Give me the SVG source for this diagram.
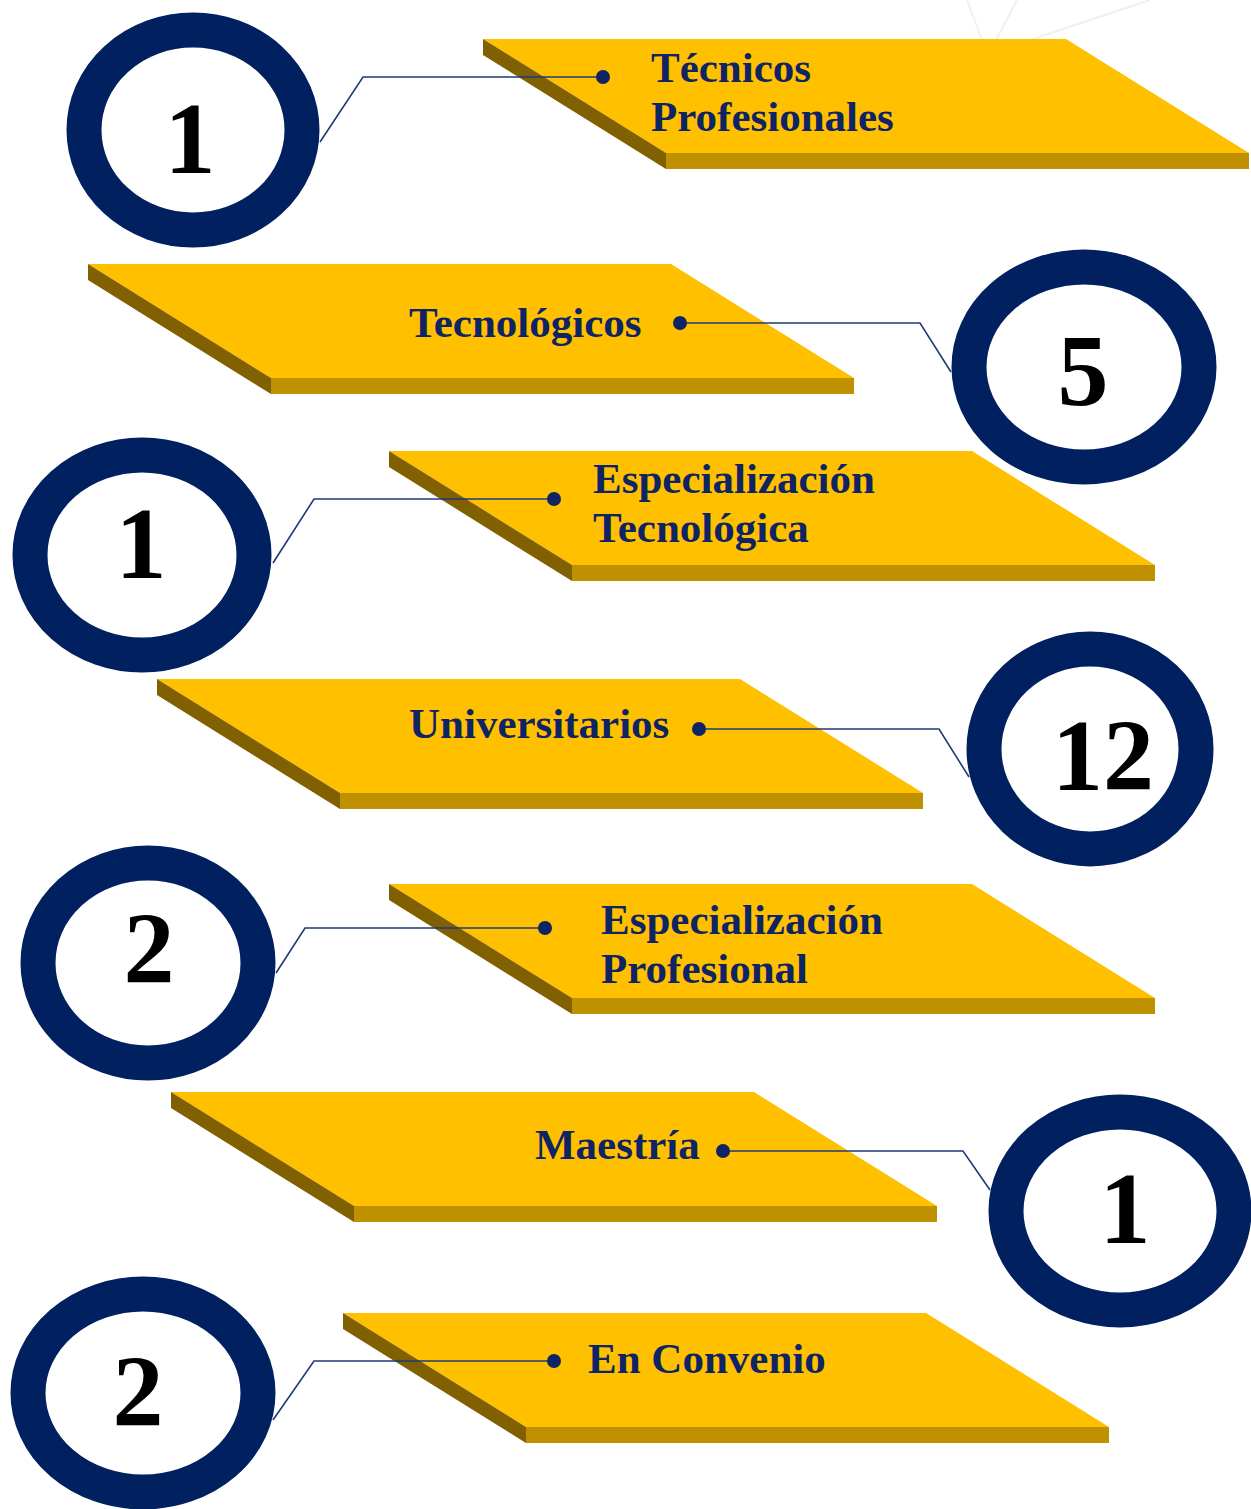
<svg xmlns="http://www.w3.org/2000/svg" width="1251" height="1509" viewBox="0 0 1251 1509">
<style>
.top{fill:#FFC000}
.side{fill:#806000}
.bot{fill:#BF9000}
.ring{fill:#FFFFFF;stroke:#002060;stroke-width:35}
.num{font-family:"Liberation Serif","Times New Roman",serif;font-weight:bold;font-size:102px;fill:#000000;text-anchor:middle}
.lbl{font-family:"Liberation Serif","Times New Roman",serif;font-weight:bold;font-size:43px;fill:#0F2463}
.conn{fill:none;stroke:#1F3A7A;stroke-width:1.6}
.dot{fill:#0F2463}
.deco{fill:none;stroke:#EEF0F3;stroke-width:2}
</style>
<defs>
<g id="slab">
<polygon class="top" points="0,0 583,0 766,114 183,114"/>
<polygon class="side" points="0,0 183,114 183,130 0,16"/>
<polygon class="bot" points="183,114 766,114 766,130 183,130"/>
</g>
</defs>
<rect width="1251" height="1509" fill="#FFFFFF"/>
<g id="decoration">
<line class="deco" x1="967" y1="0" x2="982" y2="40"/>
<line class="deco" x1="1017" y1="0" x2="996" y2="40"/>
<line class="deco" x1="1150" y1="0" x2="1030" y2="40"/>
</g>
<g id="node-tecnicos">
<use href="#slab" x="483" y="39"/>
<text class="lbl" x="651" y="82">Técnicos</text>
<text class="lbl" x="651" y="131">Profesionales</text>
</g>
<g id="node-tecnologicos">
<use href="#slab" x="88" y="264"/>
<text class="lbl" x="409" y="337">Tecnológicos</text>
</g>
<g id="node-esp-tecnologica">
<use href="#slab" x="389" y="451"/>
<text class="lbl" x="593" y="493">Especialización</text>
<text class="lbl" x="593" y="542">Tecnológica</text>
</g>
<g id="node-universitarios">
<use href="#slab" x="157" y="679"/>
<text class="lbl" x="409" y="738">Universitarios</text>
</g>
<g id="node-esp-profesional">
<use href="#slab" x="389" y="884"/>
<text class="lbl" x="601" y="934">Especialización</text>
<text class="lbl" x="601" y="983">Profesional</text>
</g>
<g id="node-maestria">
<use href="#slab" x="171" y="1092"/>
<text class="lbl" x="535" y="1159">Maestría</text>
</g>
<g id="node-convenio">
<use href="#slab" x="343" y="1313"/>
<text class="lbl" x="588" y="1373">En Convenio</text>
</g>
<g id="connectors">
<polyline class="conn" points="320,142 363,77 603,77"/>
<circle class="dot" cx="603" cy="77" r="7"/>
<polyline class="conn" points="680,323 920,323 951,372"/>
<circle class="dot" cx="680" cy="323" r="7"/>
<polyline class="conn" points="273,563 314,499 554,499"/>
<circle class="dot" cx="554" cy="499" r="7"/>
<polyline class="conn" points="699,729 939,729 969,777"/>
<circle class="dot" cx="699" cy="729" r="7"/>
<polyline class="conn" points="276,973 305,928 545,928"/>
<circle class="dot" cx="545" cy="928" r="7"/>
<polyline class="conn" points="723,1151 963,1151 990,1190"/>
<circle class="dot" cx="723" cy="1151" r="7"/>
<polyline class="conn" points="273,1420 314,1361 554,1361"/>
<circle class="dot" cx="554" cy="1361" r="7"/>
</g>
<g id="count-1a">
<ellipse class="ring" cx="193" cy="130" rx="109" ry="100"/>
<text class="num" x="190" y="173">1</text>
</g>
<g id="count-5">
<ellipse class="ring" cx="1084" cy="367" rx="115" ry="100"/>
<text class="num" x="1083" y="405">5</text>
</g>
<g id="count-1b">
<ellipse class="ring" cx="142" cy="555" rx="112" ry="100"/>
<text class="num" x="141" y="578">1</text>
</g>
<g id="count-12">
<ellipse class="ring" cx="1090" cy="749" rx="106" ry="100"/>
<text class="num" x="1103" y="790">12</text>
</g>
<g id="count-2a">
<ellipse class="ring" cx="148" cy="963" rx="110" ry="100"/>
<text class="num" x="149" y="983">2</text>
</g>
<g id="count-1c">
<ellipse class="ring" cx="1120" cy="1211" rx="114" ry="99"/>
<text class="num" x="1125" y="1243">1</text>
</g>
<g id="count-2b">
<ellipse class="ring" cx="143" cy="1393" rx="115" ry="99"/>
<text class="num" x="138" y="1426">2</text>
</g>
</svg>
